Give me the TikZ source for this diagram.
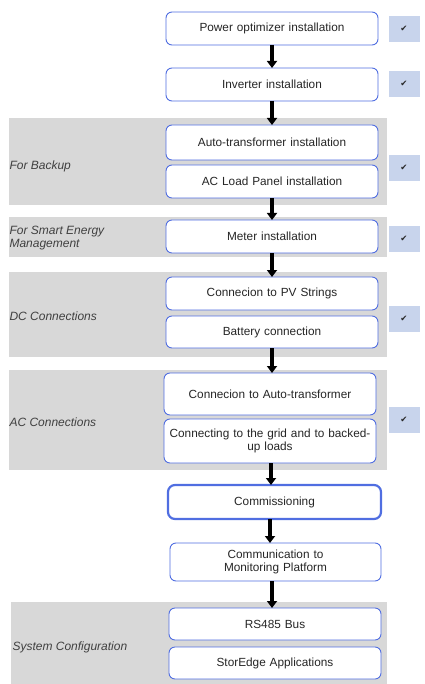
\documentclass[tikz,border=0pt]{standalone}
\usepackage{fontspec}
\setmainfont{Liberation Sans}
\newfontfamily\symfont{DejaVu Sans}
\usetikzlibrary{arrows.meta}
\definecolor{bandgray}{RGB}{216,216,216}
\definecolor{boxblue}{RGB}{80,110,225}
\definecolor{chkblue}{RGB}{200,212,236}
\begin{document}
\begin{tikzpicture}[x=1pt,y=-1pt,
  band/.style={fill=bandgray, draw=none},
  stepbox/.style={draw=boxblue, line width=0.9pt, rounded corners=6pt, fill=white},
  boldbox/.style={draw=boxblue, line width=2.2pt, rounded corners=7pt, fill=white},
  boxtext/.style={font=\fontsize{11.8}{13.5}\selectfont, align=center, text width=215pt, text=black!85},
  grplabel/.style={font=\fontsize{12}{12.5}\selectfont\itshape, anchor=west, align=left, text=black!75},
  chk/.style={fill=chkblue, draw=none, minimum width=31pt, minimum height=26pt, inner sep=0pt, font=\symfont\fontsize{8.5}{9}\selectfont, text=black!85},
  flow/.style={line width=3.2pt, -{Triangle[width=10pt,length=7pt]}}
]
\useasboundingbox (0,0) rectangle (424,684);
% gray bands
\fill[band] (9,118) rectangle (387,205);
\fill[band] (9,217) rectangle (387,257);
\fill[band] (9,272) rectangle (387,357);
\fill[band] (9,370) rectangle (387,470);
\fill[band] (11,602) rectangle (387,684);
% boxes
\draw[stepbox] (166,12) rectangle (378,45);
\node[boxtext] (b1) at (272,28.5) {Power optimizer installation};
\draw[stepbox] (166,68) rectangle (378,101);
\node[boxtext] (b2) at (272,84.5) {Inverter installation};
\draw[stepbox] (166,125) rectangle (378,160);
\node[boxtext] (b3) at (272,142.5) {Auto-transformer installation};
\draw[stepbox] (166,165) rectangle (378,198);
\node[boxtext] (b4) at (272,181.5) {AC Load Panel installation};
\draw[stepbox] (166,220) rectangle (378,253);
\node[boxtext] (b5) at (272,236.5) {Meter installation};
\draw[stepbox] (166,277) rectangle (378,310);
\node[boxtext] (b6) at (272,293.5) {Connecion to PV Strings};
\draw[stepbox] (166,316) rectangle (378,348);
\node[boxtext] (b7) at (272,332) {Battery connection};
\draw[stepbox] (164,373) rectangle (376,415);
\node[boxtext] (b8) at (270,394) {Connecion to Auto-transformer};
\draw[stepbox] (164,419) rectangle (376,463);
\node[boxtext] (b9) at (270,441) {Connecting to the grid and to backed-\\up loads};
\draw[boldbox] (168,485) rectangle (381,519);
\node[boxtext] (b10) at (274.5,502) {Commissioning};
\draw[stepbox] (170,543) rectangle (381,581);
\node[boxtext] (b11) at (275.5,562) {Communication to\\Monitoring Platform};
\draw[stepbox] (169,608) rectangle (381,640);
\node[boxtext] (b12) at (275,624) {RS485 Bus};
\draw[stepbox] (169,647) rectangle (381,679);
\node[boxtext] (b13) at (275,663) {StorEdge Applications};
% named anchors for arrows
\coordinate (a1s) at (272,45);  \coordinate (a1e) at (272,68);
\coordinate (a2s) at (272,101); \coordinate (a2e) at (272,125);
\coordinate (a3s) at (272,198); \coordinate (a3e) at (272,220);
\coordinate (a4s) at (272,253); \coordinate (a4e) at (272,277);
\coordinate (a5s) at (272,348); \coordinate (a5e) at (272,373);
\coordinate (a6s) at (271,463); \coordinate (a6e) at (271,485);
\coordinate (a7s) at (270,519); \coordinate (a7e) at (270,543);
\coordinate (a8s) at (272,581); \coordinate (a8e) at (272,608);
\foreach \i in {1,...,8} \draw[flow] (a\i s) -- (a\i e);
% group labels
\node[grplabel] (g1) at (6,166) {For Backup};
\node[grplabel, font=\fontsize{12}{13}\selectfont\itshape] (g2) at (6,238.5) {For Smart Energy\\Management};
\node[grplabel] (g3) at (6,316) {DC Connections};
\node[grplabel] (g4) at (6,422) {AC Connections};
\node[grplabel] (g5) at (9,647) {System Configuration};
% check marks
\node[chk] (c1) at (404,29) {✔};
\node[chk] (c2) at (404,84) {✔};
\node[chk] (c3) at (404,168) {✔};
\node[chk] (c4) at (404,239) {✔};
\node[chk] (c5) at (404,319) {✔};
\node[chk] (c6) at (404,420) {✔};
\end{tikzpicture}
\end{document}
